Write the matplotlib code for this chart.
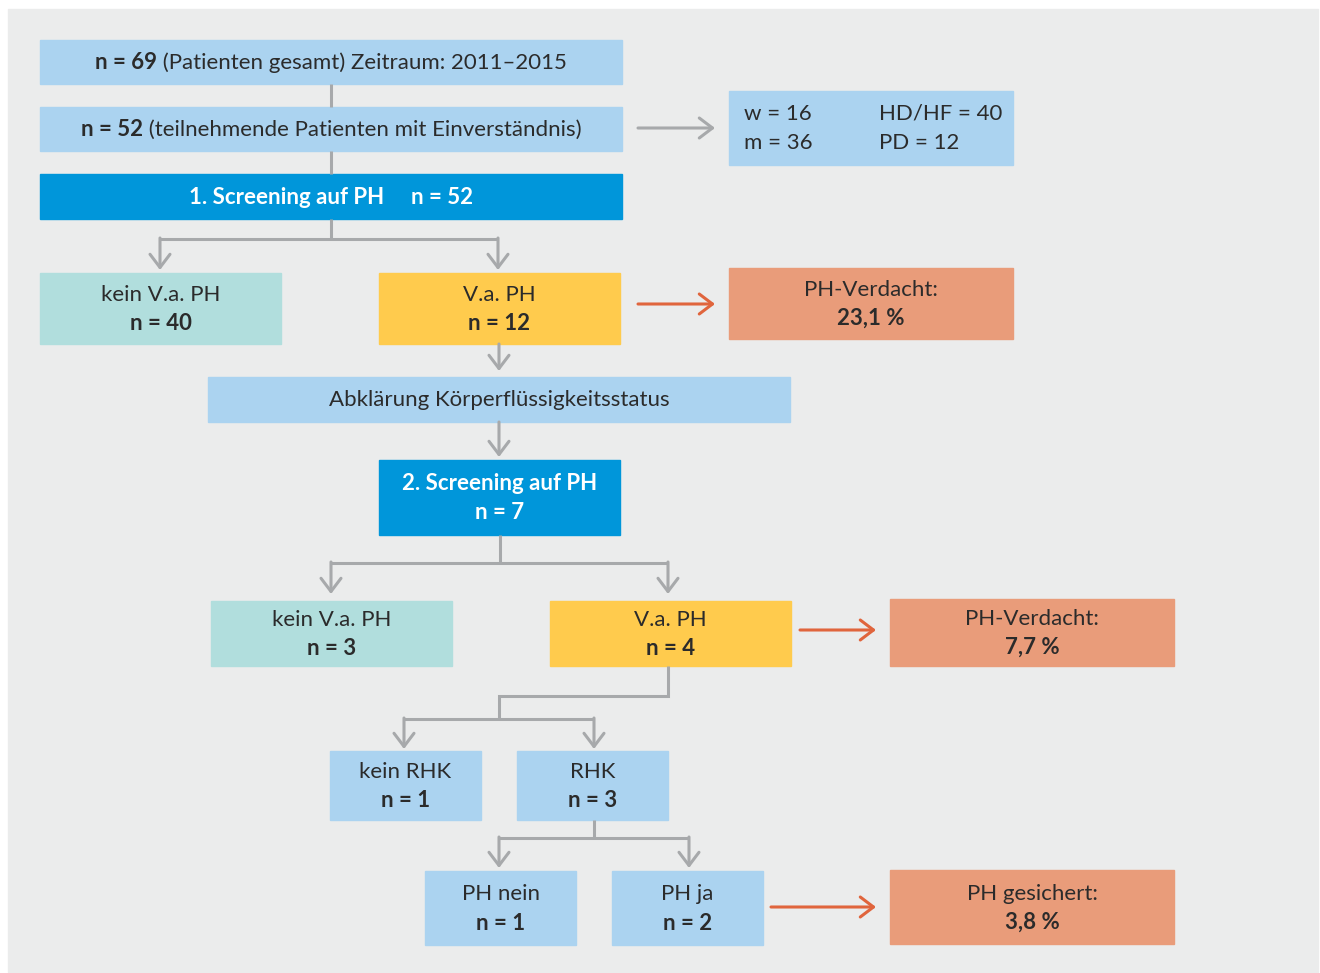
import matplotlib
matplotlib.use('Agg')
import matplotlib.pyplot as plt
from matplotlib.patches import Rectangle

plt.rcParams['font.family'] = ['Lato', 'DejaVu Sans']

total_n = 69
period = "2011–2015"
consent_n = 52
women_n, men_n = 16, 36
hd_hf_n, pd_n = 40, 12
screen1_n = 52
screen1_neg, screen1_pos = 40, 12
suspicion1_pct = 23.1
screen2_n = 7
screen2_neg, screen2_pos = 3, 4
suspicion2_pct = 7.7
rhc_no, rhc_yes = 1, 3
ph_no, ph_yes = 1, 2
confirmed_pct = 3.8

# ---- styles ----
BG = '#EBECEC'
LIGHT = '#ABD3F0'
BLUE = '#0096DA'
TEAL = '#B1DEDD'
YELLOW = '#FFCB4D'
SALMON = '#E99C7A'
GREY = '#A7A9AB'
ORANGE = '#E0653D'
TXT = '#2B2B2B'
FS = 16


def pct(v):
    return f"{v:.1f}".replace('.', ',') + " %"


W, H = 1320, 973
fig = plt.figure(figsize=(W / 100, H / 100), dpi=100)
ax = fig.add_axes([0, 0, 1, 1])
ax.set_xlim(0, W)
ax.set_ylim(H, 0)
ax.axis('off')
renderer = fig.canvas.get_renderer()

ax.add_patch(Rectangle((8, 9), 1310, 963, color=BG, zorder=0))


def text_width(s, weight):
    t = ax.text(0, 0, s, fontsize=FS, fontweight=weight)
    w = t.get_window_extent(renderer).width
    t.remove()
    return w


def line(xc, yc, parts, color=TXT):
    """Centered line of mixed bold/normal parts; yc = visual center of caps"""
    widths = [text_width(s, wt) for s, wt in parts]
    x = xc - sum(widths) / 2
    for (s, wt), w in zip(parts, widths):
        ax.text(x, yc + 7, s, fontsize=FS, fontweight=wt, color=color,
                ha='left', va='baseline', zorder=3)
        x += w


def box(x0, y0, x1, y1, color, lines, tcolor=TXT):
    ax.add_patch(Rectangle((x0, y0), x1 - x0, y1 - y0, color=color, zorder=1))
    xc, yc = (x0 + x1) / 2, (y0 + y1) / 2
    n = len(lines)
    for i, parts in enumerate(lines):
        line(xc, yc + (i - (n - 1) / 2) * 29, parts, tcolor)


def path(pts, color=GREY):
    xs, ys = zip(*pts)
    ax.plot(xs, ys, color=color, lw=2.2, solid_joinstyle='miter',
            solid_capstyle='butt', zorder=2)


def arrow(p0, p1, color=GREY):
    ax.annotate('', xy=p1, xytext=p0, zorder=2,
                arrowprops=dict(arrowstyle='->,head_length=0.95,head_width=0.72',
                                color=color, lw=2.2, shrinkA=0, shrinkB=0,
                                mutation_scale=10))


N = 'normal'
B = 'bold'

box(40, 40, 622, 84, LIGHT,
    [[(f"n = {total_n}", B), (" (Patienten gesamt) Zeitraum: " + period, N)]])
box(40, 107, 622, 151, LIGHT,
    [[(f"n = {consent_n}", B), (" (teilnehmende Patienten mit Einverständnis)", N)]])
box(40, 174, 622, 219, BLUE,
    [[(f"1. Screening auf PH     n = {screen1_n}", B)]], tcolor='white')

# demographics box
ax.add_patch(Rectangle((729, 91), 284, 74, color=LIGHT, zorder=1))
for x, y, s in [(744, 113, f"w = {women_n}"), (744, 142, f"m = {men_n}"),
                (879, 113, f"HD/HF = {hd_hf_n}"), (879, 142, f"PD = {pd_n}")]:
    ax.text(x, y + 7, s, fontsize=FS, color=TXT, ha='left', va='baseline', zorder=3)

box(40, 273, 281, 344, TEAL, [[("kein V.a. PH", N)], [(f"n = {screen1_neg}", B)]])
box(379, 273, 620, 344, YELLOW, [[("V.a. PH", N)], [(f"n = {screen1_pos}", B)]])
box(729, 268, 1013, 339, SALMON, [[("PH-Verdacht:", N)], [(pct(suspicion1_pct), B)]])
box(208, 377, 790, 422, LIGHT, [[("Abklärung Körperflüssigkeitsstatus", N)]])
box(379, 460, 620, 535, BLUE,
    [[("2. Screening auf PH", B)], [(f"n = {screen2_n}", B)]], tcolor='white')
box(211, 601, 452, 666, TEAL, [[("kein V.a. PH", N)], [(f"n = {screen2_neg}", B)]])
box(550, 601, 791, 666, YELLOW, [[("V.a. PH", N)], [(f"n = {screen2_pos}", B)]])
box(890, 599, 1174, 666, SALMON, [[("PH-Verdacht:", N)], [(pct(suspicion2_pct), B)]])
box(330, 751, 481, 820, LIGHT, [[("kein RHK", N)], [(f"n = {rhc_no}", B)]])
box(517, 751, 668, 820, LIGHT, [[("RHK", N)], [(f"n = {rhc_yes}", B)]])
box(425, 871, 576, 945, LIGHT, [[("PH nein", N)], [(f"n = {ph_no}", B)]])
box(612, 871, 763, 945, LIGHT, [[("PH ja", N)], [(f"n = {ph_yes}", B)]])
box(890, 870, 1174, 944, SALMON, [[("PH gesichert:", N)], [(pct(confirmed_pct), B)]])

# connectors
path([(331, 84), (331, 107)])
path([(331, 151), (331, 174)])
path([(331, 219), (331, 239)])
path([(160, 239), (498, 239)])
arrow((160, 238), (160, 270))
arrow((498, 238), (498, 270))
arrow((638, 128), (715, 128))
arrow((638, 304), (715, 304), ORANGE)
arrow((499, 344), (499, 371))
arrow((499, 422), (499, 457))

path([(500, 535), (500, 563)])
path([(331, 563), (668, 563)])
arrow((331, 562), (331, 594))
arrow((668, 562), (668, 594))
arrow((800, 630), (876, 630), ORANGE)

path([(668, 666), (668, 696), (499, 696), (499, 719)])
path([(404, 719), (594, 719)])
arrow((404, 718), (404, 749))
arrow((594, 718), (594, 749))

path([(594, 820), (594, 838)])
path([(499, 838), (689, 838)])
arrow((499, 837), (499, 868))
arrow((689, 837), (689, 868))
arrow((771, 907), (876, 907), ORANGE)

fig.savefig('out.png', dpi=100, facecolor='white')
